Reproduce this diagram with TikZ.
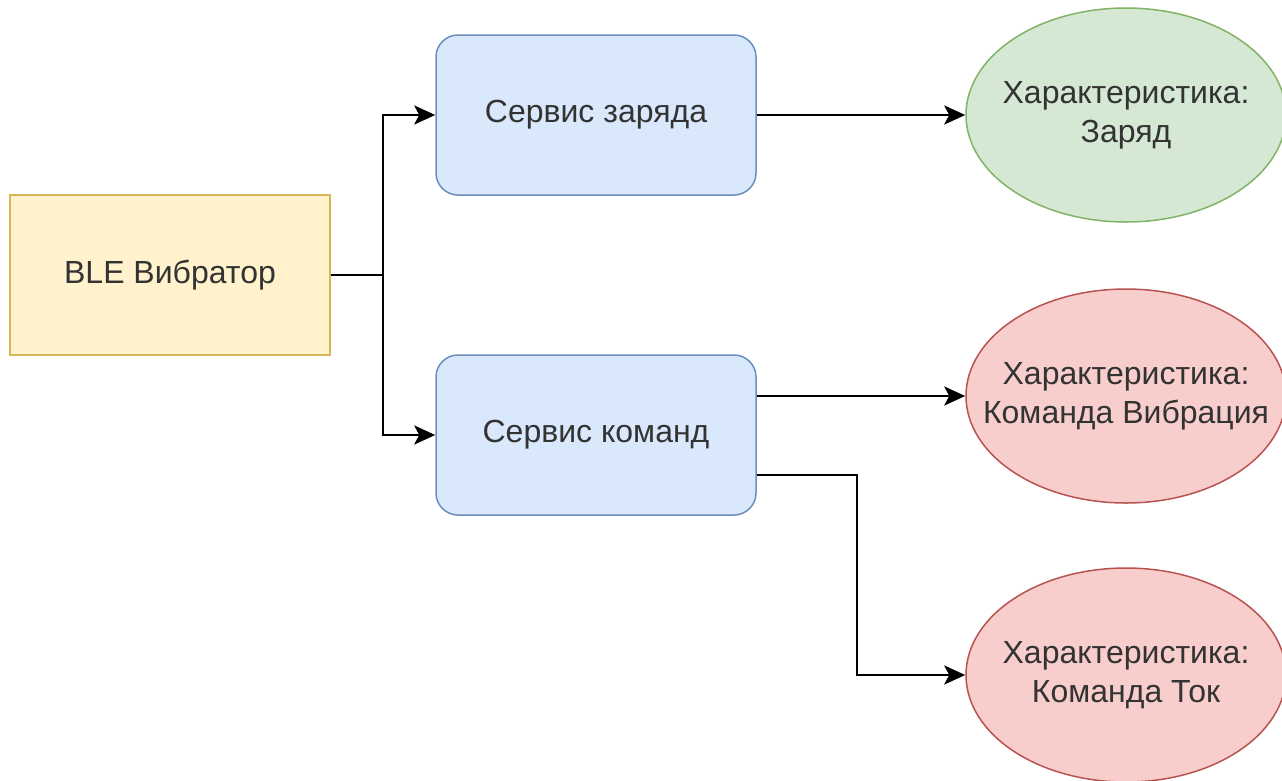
\documentclass[tikz,border=0pt]{standalone}
\usepackage{fontspec}
\setmainfont{Liberation Sans}
\usetikzlibrary{shapes.geometric,arrows.meta}
\definecolor{ylwfill}{HTML}{FFF2CC}\definecolor{ylwline}{HTML}{D6B656}
\definecolor{bluefill}{HTML}{DAE8FC}\definecolor{blueline}{HTML}{6C8EBF}
\definecolor{grnfill}{HTML}{D5E8D4}\definecolor{grnline}{HTML}{82B366}
\definecolor{redfill}{HTML}{F8CECC}\definecolor{redline}{HTML}{B85450}
\definecolor{txt}{HTML}{333333}
% one centred line that does not widen its node
\newcommand{\ctrline}[1]{\makebox[0pt]{#1}}
\tikzset{
  every node/.style={font=\fontsize{32}{39}\selectfont, text=txt, align=center, inner sep=0pt},
  device/.style={rectangle, draw=ylwline, fill=ylwfill, line width=1.5pt, minimum width=320pt, minimum height=160pt},
  service/.style={rectangle, rounded corners=22pt, draw=blueline, fill=bluefill, line width=1.5pt, minimum width=320pt, minimum height=160pt},
  charbase/.style={ellipse, line width=1.5pt, minimum width=320pt, minimum height=214pt},
  chargreen/.style={charbase, draw=grnline, fill=grnfill},
  charred/.style={charbase, draw=redline, fill=redfill},
  link/.style={line width=2.8pt, black, -{Stealth[length=21pt, width=19pt, inset=5pt]}},
  plain/.style={line width=2.8pt, black}
}
\begin{document}
\begin{tikzpicture}[x=1pt, y=-1pt]
  \useasboundingbox (0,0) rectangle (1282,780);
  \clip (0,0) rectangle (1282,780);
  \fill[white] (0,0) rectangle (1282,780);

  % blocks
  \node[device]  (ble)  at (170,275) {BLE Вибратор};
  \node[service] (chg)  at (596,115) {Сервис заряда};
  \node[service] (cmd)  at (596,435) {Сервис команд};
  \node[chargreen] (cz) at (1126,115) {\ctrline{Характеристика:}\\\ctrline{Заряд}};
  \node[charred]   (cv) at (1126,396) {\ctrline{Характеристика:}\\\ctrline{Команда Вибрация}};
  \node[charred]   (ct) at (1126,675) {\ctrline{Характеристика:}\\\ctrline{Команда Ток}};

  % device to services
  \coordinate (split) at (383,275);
  \draw[plain] (ble.east) -- (split);
  \draw[link] (split) |- (chg.west);
  \draw[link] (split) |- (cmd.west);

  % services to characteristics
  \draw[link] (chg.east) -- (cz.west);
  \draw[link] (cmd.east |- cv.west) -- (cv.west);
  \coordinate (cmdlow) at ([yshift=-40pt]cmd.east);
  \coordinate (bend) at (857,475);
  \draw[link] (cmdlow) -- (bend) |- (ct.west);
\end{tikzpicture}
\end{document}
